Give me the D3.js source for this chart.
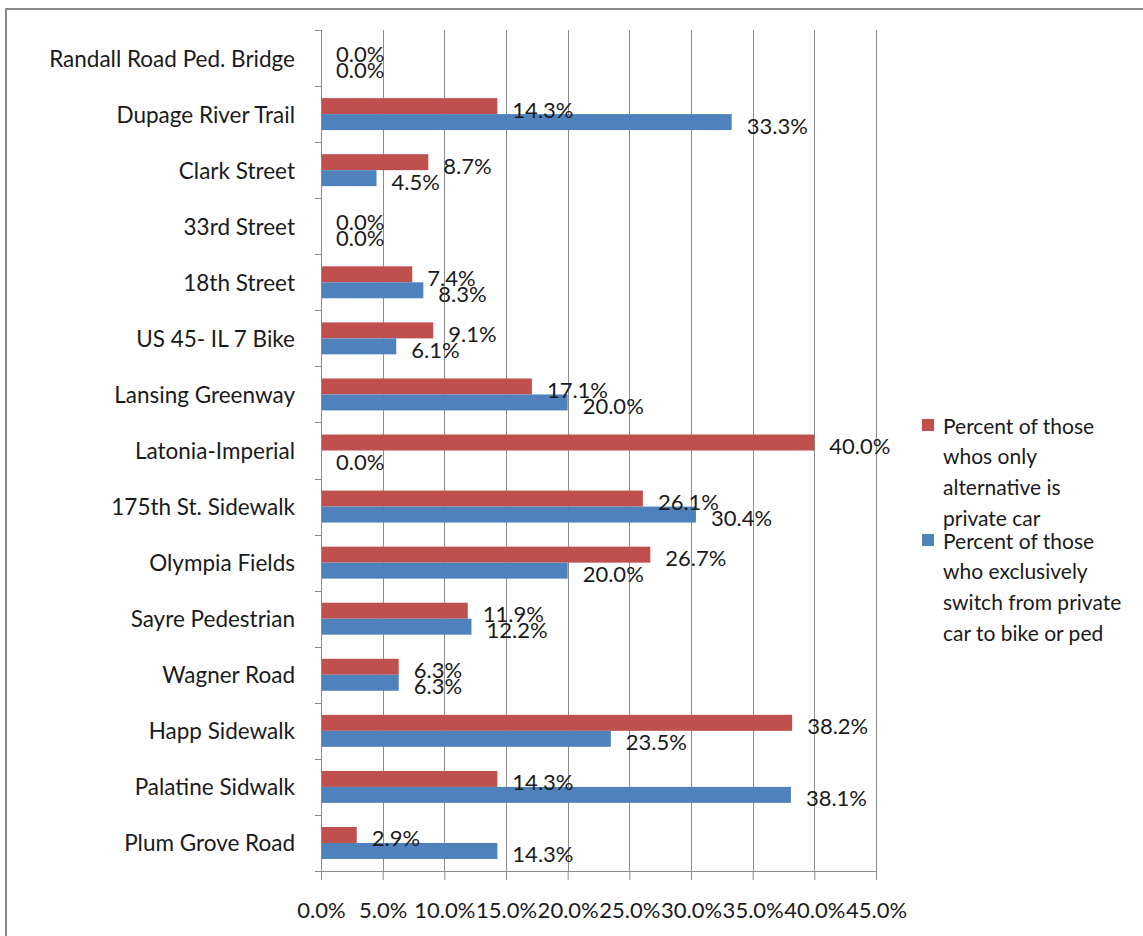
<!DOCTYPE html>
<html>
<head>
<meta charset="utf-8">
<script src="https://cdn.jsdelivr.net/npm/d3@7"></script>
<style>
  html, body { margin: 0; padding: 0; background: #fff; }
  svg { display: block; }
  text { font-family: Lato, "Open Sans", sans-serif; fill: #1a1a1a; }
</style>
</head>
<body>
<svg id="chart" width="1143" height="936"></svg>
<script>
const categories = [
  "Randall Road Ped. Bridge", "Dupage River Trail", "Clark Street", "33rd Street",
  "18th Street", "US 45- IL 7 Bike", "Lansing Greenway", "Latonia-Imperial",
  "175th St. Sidewalk", "Olympia Fields", "Sayre Pedestrian", "Wagner Road",
  "Happ Sidewalk", "Palatine Sidwalk", "Plum Grove Road"
];
const onlyAlternativeCar = [0.0, 14.3, 8.7, 0.0, 7.4, 9.1, 17.1, 40.0, 26.1, 26.7, 11.9, 6.3, 38.2, 14.3, 2.9];
const exclusivelySwitch = [0.0, 33.3, 4.5, 0.0, 8.3, 6.1, 20.0, 0.0, 30.4, 20.0, 12.2, 6.3, 23.5, 38.1, 14.3];
const xTicks = [0, 5, 10, 15, 20, 25, 30, 35, 40, 45];
const seriesNames = [
  ["Percent of those", "whos only", "alternative is", "private car"],
  ["Percent of those", "who exclusively", "switch from private", "car to bike or ped"]
];
const seriesColors = ["#C0504D", "#4F81BD"];

const svg = d3.select("#chart");
const pLeft = 321, pRight = 876, pTop = 30, pBottom = 871;

// outer chart border
svg.append("rect").attr("x", 6).attr("y", 9).attr("width", 1160).attr("height", 960)
  .attr("fill", "none").attr("stroke", "#8a8a8a").attr("stroke-width", 2);

const x = d3.scaleLinear().domain([0, 45]).range([pLeft, pRight]);
const y = d3.scaleBand().domain(categories).range([pTop, pBottom]).paddingInner(0.43).paddingOuter(0.215);
const sub = d3.scaleBand().domain([0, 1]).range([0, y.bandwidth()]);

// gridlines
svg.append("g").selectAll("line").data(xTicks.slice(1)).join("line")
  .attr("x1", d => Math.round(x(d)) + 0.5).attr("x2", d => Math.round(x(d)) + 0.5)
  .attr("y1", pTop).attr("y2", pBottom)
  .attr("stroke", "#8c8c8c").attr("stroke-width", 1);

// x axis
const xAxis = d3.axisBottom(x).tickValues(xTicks).tickFormat(d => d.toFixed(1) + "%").tickSize(9).tickPadding(22);
const gx = svg.append("g").attr("transform", `translate(0,${pBottom})`).call(xAxis);
gx.select(".domain").attr("stroke", "#8c8c8c");
gx.selectAll(".tick line").attr("stroke", "#8c8c8c");
gx.selectAll("text").style("font-size", "22px").style("font-family", "Lato, sans-serif").attr("fill", "#1a1a1a");

// y axis (line + ticks at band boundaries)
svg.append("line").attr("x1", pLeft + 0.5).attr("x2", pLeft + 0.5).attr("y1", pTop).attr("y2", pBottom)
  .attr("stroke", "#8c8c8c");
const boundaries = d3.range(categories.length + 1).map(i => pTop + i * (pBottom - pTop) / categories.length);
svg.append("g").selectAll("line").data(boundaries).join("line")
  .attr("x1", pLeft - 6).attr("x2", pLeft).attr("y1", d => Math.round(d) + 0.5).attr("y2", d => Math.round(d) + 0.5)
  .attr("stroke", "#8c8c8c");

// category labels
svg.append("g").selectAll("text").data(categories).join("text")
  .attr("x", 295).attr("y", d => y(d) + y.bandwidth() / 2)
  .attr("text-anchor", "end").attr("dominant-baseline", "central")
  .style("font-size", "22.5px").text(d => d);

// bars
const seriesData = [onlyAlternativeCar, exclusivelySwitch];
seriesData.forEach((vals, s) => {
  svg.append("g").selectAll("rect").data(vals).join("rect")
    .attr("x", x(0) + 1)
    .attr("y", (d, i) => y(categories[i]) + sub(s))
    .attr("width", d => Math.max(0, x(d) - x(0) - 1))
    .attr("height", sub.bandwidth())
    .attr("fill", seriesColors[s]);
});

// data labels
seriesData.forEach((vals, s) => {
  svg.append("g").selectAll("text").data(vals).join("text")
    .attr("x", d => x(d) + 15)
    .attr("y", (d, i) => y(categories[i]) + sub(s) + sub.bandwidth() / 2 + 3)
    .attr("dominant-baseline", "central")
    .style("font-size", "22px")
    .text(d => d.toFixed(1) + "%");
});

// legend
const legendTops = [419, 534];
seriesNames.forEach((lines, s) => {
  const g = svg.append("g");
  g.append("rect").attr("x", 922).attr("y", legendTops[s]).attr("width", 12).attr("height", 12)
    .attr("fill", seriesColors[s]);
  g.selectAll("text").data(lines).join("text")
    .attr("x", 943).attr("y", (d, i) => legendTops[s] + 6 + i * 30.7)
    .attr("dominant-baseline", "central")
    .style("font-size", "21px").text(d => d);
});
</script>
</body>
</html>
